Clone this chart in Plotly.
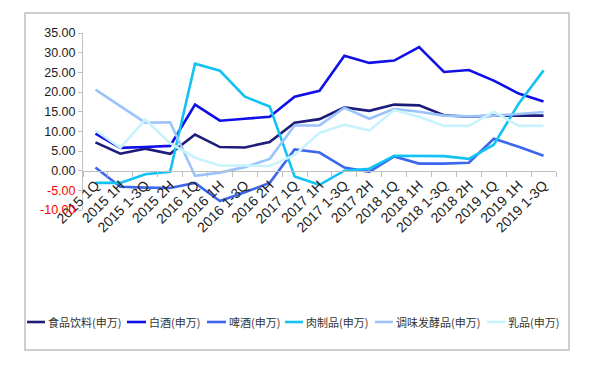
import plotly.graph_objects as go

categories = ["2015 1Q", "2015 1H", "2015 1-3Q", "2015 2H", "2016 1Q", "2016 1H", "2016 1-3Q",
              "2016 2H", "2017 1Q", "2017 1H", "2017 1-3Q", "2017 2H", "2018 1Q", "2018 1H",
              "2018 1-3Q", "2018 2H", "2019 1Q", "2019 1H", "2019 1-3Q"]

food_bev = [7.2, 4.3, 5.6, 4.3, 9.2, 6.0, 5.9, 7.3, 12.2, 13.1, 16.1, 15.2, 16.8, 16.6, 14.1, 13.7, 14.0, 14.0, 14.0]
baijiu = [9.4, 5.8, 6.0, 6.3, 16.8, 12.7, 13.2, 13.7, 18.8, 20.3, 29.2, 27.4, 28.0, 31.4, 25.1, 25.6, 22.9, 19.6, 17.6]
beer = [0.8, -4.1, -4.3, -4.4, -3.1, -7.7, -5.5, -3.1, 5.4, 4.6, 0.8, -0.3, 3.6, 1.8, 1.8, 2.0, 8.1, 6.1, 3.8]
meat = [-3.1, -3.1, -0.9, -0.3, 27.2, 25.4, 18.8, 16.3, -1.5, -3.6, 0.0, 0.5, 3.8, 3.7, 3.7, 3.0, 6.6, 17.0, 25.5]
seasoning = [20.6, 16.3, 12.2, 12.3, -1.3, -0.5, 0.9, 3.0, 11.5, 11.5, 16.0, 13.2, 15.7, 15.0, 14.0, 13.8, 14.0, 14.4, 14.9]
dairy = [10.2, 5.8, 13.0, 7.0, 3.3, 1.3, 1.3, 1.2, 4.0, 9.6, 11.7, 10.2, 15.4, 13.7, 11.4, 11.4, 15.0, 11.4, 11.4]

series_names = ["食品饮料(申万)", "白酒(申万)", "啤酒(申万)", "肉制品(申万)", "调味发酵品(申万)", "乳品(申万)"]
series_values = [food_bev, baijiu, beer, meat, seasoning, dairy]
colors = ["#1c1c7a", "#0f0fe6", "#3d66ee", "#12c2f2", "#9cc4fb", "#c8f3fd"]

y_ticks = [35, 30, 25, 20, 15, 10, 5, 0, -5, -10]

# page body has an 8px default margin -> compensate
OFF = 8
W, H = 600 - OFF, 372 - OFF
PL, PR, PT, PB = 83, 556, 33, 210  # target screen pixels of plot area
pw, ph = PR - PL, PB - PT


def px_x(p):
    return (p - PL) / pw


def px_y(p):
    return (PB - p) / ph


fig = go.Figure()
for name, vals, col in zip(series_names, series_values, colors):
    fig.add_trace(go.Scatter(x=categories, y=vals, name=name, mode="lines",
                             line=dict(color=col, width=2.6), showlegend=False))

ytext = []
for v in y_ticks:
    s = f"{v:.2f}"
    ytext.append(f"<span style='color:#ff0000'>{s}</span>" if v < 0 else s)

# custom single-row legend (line swatch + label)
legend_line_px = [(27, 45), (127, 146), (207, 226), (285, 303), (375, 393), (487, 505)]
legend_y_px = 322
shapes = [dict(type="rect", xref="paper", yref="paper",
               x0=px_x(25), x1=px_x(569), y0=px_y(350), y1=px_y(13),
               line=dict(color="#bfbfbf", width=1.5), fillcolor="rgba(0,0,0,0)", layer="below")]
annotations = []
for name, col, (a, b) in zip(series_names, colors, legend_line_px):
    shapes.append(dict(type="line", xref="paper", yref="paper",
                       x0=px_x(a), x1=px_x(b), y0=px_y(legend_y_px), y1=px_y(legend_y_px),
                       line=dict(color=col, width=2.6)))
    annotations.append(dict(xref="paper", yref="paper", x=px_x(b + 1), y=px_y(legend_y_px),
                            xanchor="left", yanchor="middle", showarrow=False, text=name,
                            font=dict(family="Noto Sans CJK SC", size=11, color="#333333")))

fig.update_layout(
    width=W, height=H,
    margin=dict(l=PL - OFF, r=600 - PR, t=PT - OFF, b=372 - PB, autoexpand=False),
    paper_bgcolor="white", plot_bgcolor="white",
    font=dict(family="Liberation Sans, Arial", size=12, color="#222222"),
    showlegend=False,
    xaxis=dict(type="category", anchor="free", position=10 / 45, automargin=False,
               showline=True, linecolor="#bfbfbf", linewidth=1,
               ticks="outside", tickson="boundaries", ticklen=5, tickcolor="#bfbfbf",
               tickangle=-45, showgrid=False, zeroline=False,
               tickfont=dict(size=14, color="#222222"),
               range=[-0.5, len(categories) - 0.5]),
    yaxis=dict(range=[-10, 35], tickvals=y_ticks, ticktext=ytext, automargin=False,
               showline=True, linecolor="#bfbfbf", linewidth=1,
               ticks="outside", ticklen=4, tickcolor="#bfbfbf",
               showgrid=False, zeroline=False,
               tickfont=dict(size=12.5, color="#222222")),
    shapes=shapes,
    annotations=annotations,
)

fig.write_html("out.html")
